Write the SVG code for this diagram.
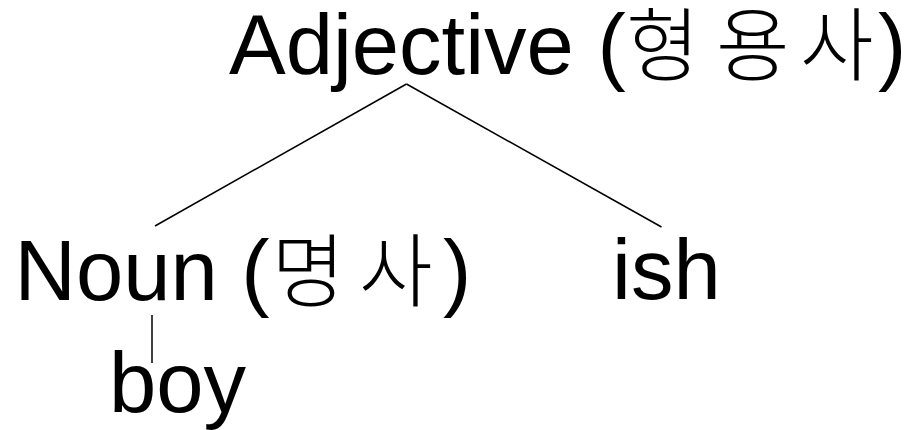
<svg xmlns="http://www.w3.org/2000/svg" width="915" height="430" viewBox="0 0 915 430">
  <style>
    .lbl { font-family: "Liberation Sans", "Noto Sans CJK KR", sans-serif; font-size: 85px; fill: #000; }
    .ko { font-family: "Noto Sans CJK KR", "Liberation Sans", sans-serif; font-size: 80px; font-weight: 300; fill: #000; }
    .edge { stroke: #000; stroke-width: 1.5; fill: none; }
  </style>
  <rect width="915" height="430" fill="#fff"/>
  <g id="connectors">
    <line class="edge" x1="406.5" y1="84" x2="155" y2="226"/>
    <line class="edge" x1="406.5" y1="84" x2="661.5" y2="227"/>
    <line class="edge" x1="152" y1="315" x2="152" y2="363"/>
  </g>
  <g id="node-adjective">
    <text class="lbl" x="229" y="74">Adjective (</text>
    <text class="ko" x="626" y="74">형</text>
    <text class="ko" x="716" y="74">용</text>
    <text class="ko" x="800" y="74">사</text>
    <text class="lbl" x="878" y="74">)</text>
  </g>
  <g id="node-noun">
    <text class="lbl" x="14.5" y="300">Noun (</text>
    <text class="ko" x="271.5" y="300">명</text>
    <text class="ko" x="359" y="300">사</text>
    <text class="lbl" x="443" y="300">)</text>
  </g>
  <g id="node-ish">
    <text class="lbl" x="612" y="299">ish</text>
  </g>
  <g id="node-boy">
    <text class="lbl" x="109" y="412">boy</text>
  </g>
</svg>
